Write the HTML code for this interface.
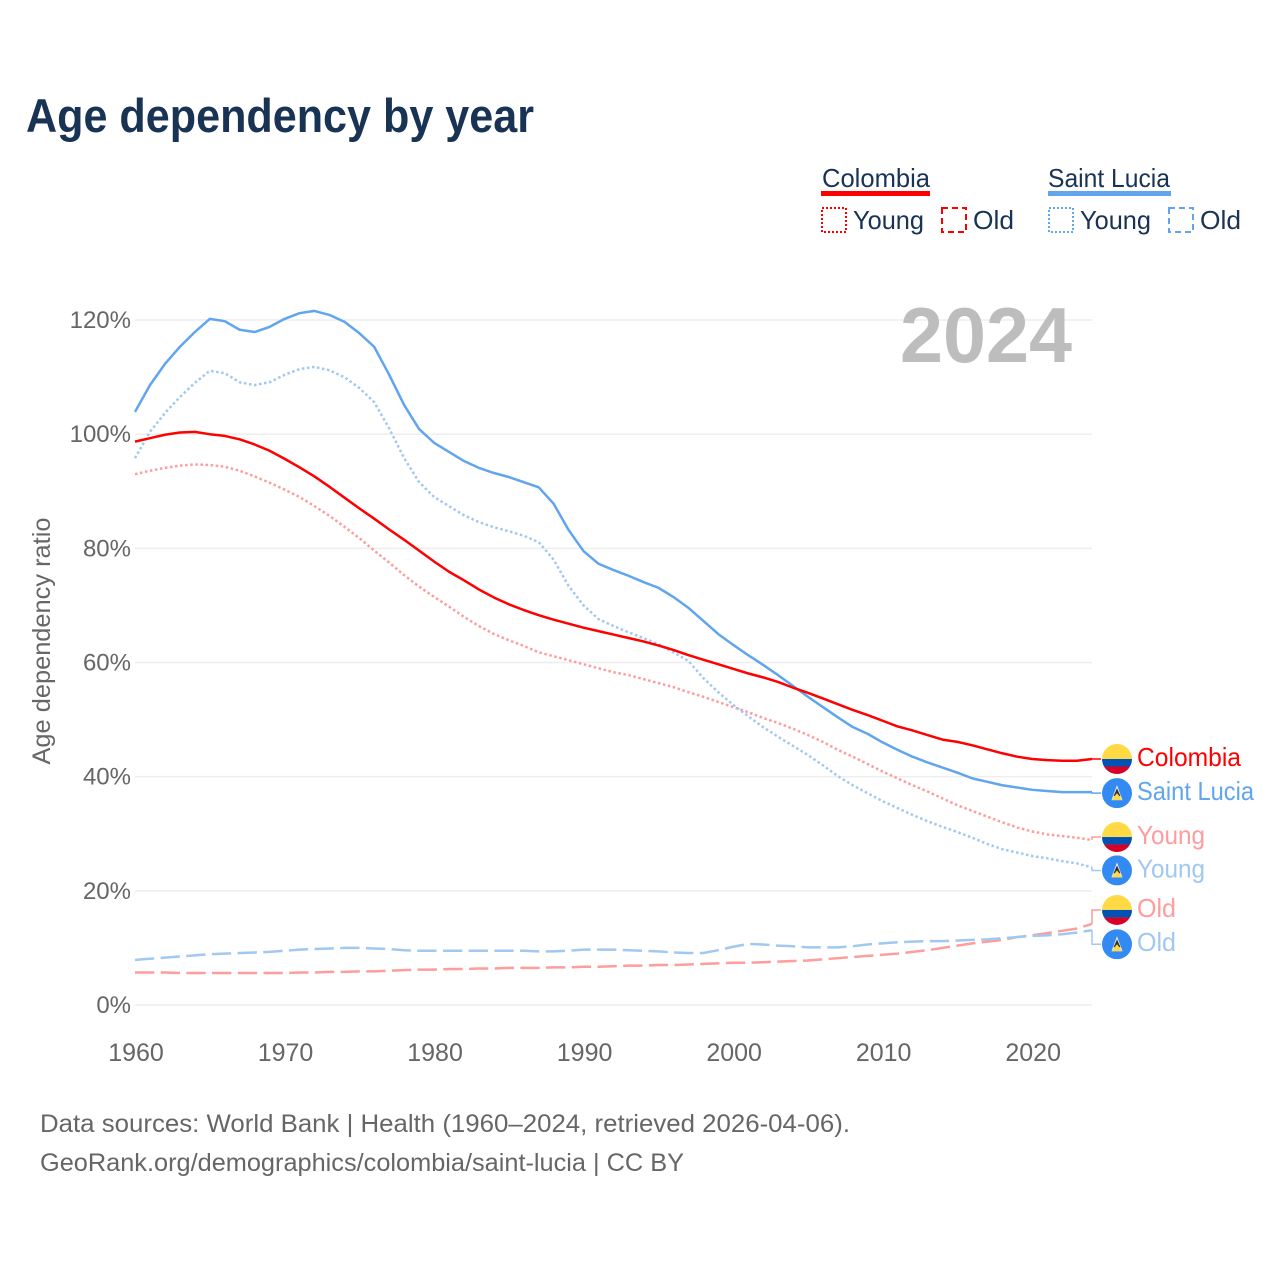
<!DOCTYPE html>
<html lang="en">
<head>
<meta charset="utf-8">
<title>Age dependency by year</title>
<style>
html,body{margin:0;padding:0;background:#fff;}
svg{display:block;font-family:"Liberation Sans",sans-serif;}
</style>
</head>
<body>
<svg id="chart" xmlns="http://www.w3.org/2000/svg" width="1280" height="1280" viewBox="0 0 1280 1280">
  <rect width="1280" height="1280" fill="#fff"/>
  <text x="26" y="132" font-size="47" font-weight="700" fill="#193354" textLength="508" lengthAdjust="spacingAndGlyphs">Age dependency by year</text>

  <g>
    <text x="822" y="187" font-size="26" fill="#193354" textLength="108" lengthAdjust="spacingAndGlyphs">Colombia</text>
    <rect x="821" y="191" width="109" height="5" fill="#ff0000"/>
    <rect x="822" y="208" width="24" height="24" fill="none" stroke="#ff0000" stroke-width="2" stroke-dasharray="2 2"/>
    <text x="853" y="229" font-size="26" fill="#193354" textLength="71" lengthAdjust="spacingAndGlyphs">Young</text>
    <rect x="942" y="208" width="24" height="24" fill="none" stroke="#ff0000" stroke-width="2" stroke-dasharray="6 4"/>
    <text x="973" y="229" font-size="26" fill="#193354" textLength="41" lengthAdjust="spacingAndGlyphs">Old</text>
  </g>
  <g>
    <text x="1048" y="187" font-size="26" fill="#193354" textLength="122" lengthAdjust="spacingAndGlyphs">Saint Lucia</text>
    <rect x="1048" y="191" width="123" height="5" fill="#60a5ee"/>
    <rect x="1049" y="208" width="24" height="24" fill="none" stroke="#60a5ee" stroke-width="2" stroke-dasharray="2 2"/>
    <text x="1080" y="229" font-size="26" fill="#193354" textLength="71" lengthAdjust="spacingAndGlyphs">Young</text>
    <rect x="1169" y="208" width="24" height="24" fill="none" stroke="#60a5ee" stroke-width="2" stroke-dasharray="6 4"/>
    <text x="1200" y="229" font-size="26" fill="#193354" textLength="41" lengthAdjust="spacingAndGlyphs">Old</text>
  </g>

  <g id="grid"></g>
  <g id="yticks"></g>
  <g id="xticks"></g>
  <text transform="translate(50 641) rotate(-90)" text-anchor="middle" font-size="25" fill="#666" textLength="247" lengthAdjust="spacingAndGlyphs">Age dependency ratio</text>
  <text x="1072" y="362" text-anchor="end" font-size="78" font-weight="700" fill="#bdbdbd" textLength="172" lengthAdjust="spacingAndGlyphs">2024</text>

  <g id="series"></g>
  <g id="labels"></g>

  <text x="40" y="1132" font-size="25" fill="#666" textLength="810" lengthAdjust="spacingAndGlyphs">Data sources: World Bank | Health (1960–2024, retrieved 2026-04-06).</text>
  <text x="40" y="1171" font-size="25" fill="#666" textLength="644" lengthAdjust="spacingAndGlyphs">GeoRank.org/demographics/colombia/saint-lucia | CC BY</text>
</svg>
<script>
const startYear = 1960;
const yTickValues = [0, 20, 40, 60, 80, 100, 120];
const xTickValues = [1960, 1970, 1980, 1990, 2000, 2010, 2020];

const colombiaTotal = [98.7,99.3,99.9,100.3,100.4,100,99.7,99.1,98.2,97.1,95.7,94.2,92.6,90.8,88.9,87,85.2,83.3,81.5,79.6,77.7,75.9,74.4,72.8,71.4,70.2,69.2,68.3,67.5,66.8,66.1,65.5,64.9,64.3,63.7,63,62.2,61.3,60.5,59.7,58.9,58.1,57.4,56.6,55.6,54.7,53.7,52.7,51.7,50.8,49.8,48.8,48.1,47.3,46.5,46.1,45.5,44.8,44.1,43.5,43.1,42.9,42.8,42.8,43.1];
const colombiaYoung = [93,93.6,94.1,94.5,94.7,94.6,94.3,93.6,92.6,91.5,90.3,89,87.4,85.7,83.8,81.8,79.6,77.5,75.3,73.3,71.5,69.8,68,66.4,65,63.9,62.9,61.8,61.1,60.4,59.7,59,58.3,57.8,57.1,56.4,55.7,54.8,54,53.1,52.2,51.3,50.3,49.4,48.4,47.3,46.1,44.7,43.5,42.2,40.9,39.7,38.5,37.4,36.2,35,34,33,32,31.1,30.4,29.9,29.6,29.3,28.9];
const colombiaOld = [5.7,5.7,5.7,5.6,5.6,5.6,5.6,5.6,5.6,5.6,5.6,5.7,5.7,5.8,5.8,5.9,5.9,6,6.1,6.2,6.2,6.3,6.3,6.4,6.4,6.5,6.5,6.5,6.6,6.6,6.7,6.7,6.8,6.9,6.9,7,7,7.1,7.2,7.3,7.4,7.4,7.5,7.6,7.7,7.8,8,8.2,8.4,8.6,8.8,9,9.3,9.6,10,10.4,10.8,11.1,11.4,11.9,12.2,12.6,13,13.4,14.2];
const luciaTotal = [103.9,108.6,112.3,115.3,117.9,120.2,119.8,118.3,117.9,118.8,120.2,121.2,121.6,120.9,119.7,117.7,115.3,110.4,105.1,100.9,98.5,96.9,95.3,94.1,93.2,92.5,91.6,90.7,87.8,83.2,79.5,77.3,76.2,75.2,74.1,73.1,71.5,69.6,67.3,65,63.1,61.3,59.6,57.8,55.9,54,52.2,50.4,48.7,47.5,46,44.7,43.5,42.5,41.6,40.7,39.7,39.1,38.5,38.1,37.7,37.5,37.3,37.3,37.3];
const luciaYoung = [95.8,100.4,103.7,106.5,109,111.1,110.7,109.1,108.6,109.1,110.4,111.4,111.8,111.2,110,108.1,105.6,101,95.8,91.6,89,87.4,85.8,84.6,83.7,83,82.2,81.1,78,73.4,70,67.6,66.4,65.3,64.3,63.2,61.8,60.3,57.3,54.8,52.6,50.6,48.7,47,45.4,43.8,42,40.1,38.5,37.1,35.7,34.5,33.3,32.2,31.2,30.3,29.3,28.2,27.3,26.7,26.1,25.7,25.2,24.8,24.1];
const luciaOld = [7.9,8.1,8.3,8.5,8.7,8.9,9,9.1,9.2,9.3,9.5,9.7,9.8,9.9,10,10,9.9,9.8,9.6,9.5,9.5,9.5,9.5,9.5,9.5,9.5,9.5,9.4,9.4,9.5,9.7,9.7,9.7,9.6,9.5,9.4,9.2,9.1,9.1,9.6,10.2,10.7,10.6,10.4,10.3,10.1,10.1,10.1,10.3,10.6,10.8,11,11.1,11.2,11.2,11.3,11.4,11.5,11.7,11.9,12.1,12.2,12.4,12.7,13.1];

const NS = 'http://www.w3.org/2000/svg';
const X0 = 135, X1 = 1092, Y0 = 1005, YPX = 5.708;
function xScale(year){ return X0 + (year - startYear) * (X1 - X0) / 64; }
function yScale(v){ return Y0 - v * YPX; }
function make(tag, parent, attrs){
  const el = document.createElementNS(NS, tag);
  for (const k in attrs) el.setAttribute(k, attrs[k]);
  parent.appendChild(el);
  return el;
}

const gridG = document.getElementById('grid');
const yG = document.getElementById('yticks');
const xG = document.getElementById('xticks');
yTickValues.forEach(function(v){
  const line = make('line', gridG, {x1:X0, x2:X1, y1:yScale(v), y2:yScale(v), stroke:'#eeeeee', 'stroke-width':1.5});
  
  
  const t = make('text', yG, {x:131, y:yScale(v)+8, 'text-anchor':'end', 'font-size':24, fill:'#666'});
  
  
  t.textContent = v + '%';
});
xTickValues.forEach(function(y){
  const t = make('text', xG, {x:xScale(y)+1, y:1061, 'text-anchor':'middle', 'font-size':25, fill:'#666'});
  
  
  t.textContent = y;
});

const seriesDefs = [
  {id:'colombia-old', values:colombiaOld, color:'#ff9c9c', dash:'19.3 6.4', label:'Old', country:'co', nudge:-14},
  {id:'saint-lucia-old', values:luciaOld, color:'#a0c8f1', dash:'19.3 6.4', label:'Old', country:'lc', nudge:14},
  {id:'colombia-young', values:colombiaYoung, color:'#ff9c9c', dash:'2.5 2.6', label:'Young', country:'co', nudge:-3},
  {id:'saint-lucia-young', values:luciaYoung, color:'#a0c8f1', dash:'2.5 2.6', label:'Young', country:'lc', nudge:3},
  {id:'saint-lucia-total', values:luciaTotal, color:'#60a5ee', dash:'', label:'Saint Lucia', country:'lc', nudge:1},
  {id:'colombia-total', values:colombiaTotal, color:'#ff0000', dash:'', label:'Colombia', country:'co', nudge:0}
];
const labelWidths = {'Old':39, 'Young':68, 'Saint Lucia':117, 'Colombia':104};

const seriesG = document.getElementById('series');
const labelsG = document.getElementById('labels');

function drawFlag(group, country, cy){
  const cx = 1117, r = 15;
  const clipId = 'clip-' + cy.toFixed(0);
  const clip = make('clipPath', group, {id:clipId});
  make('circle', clip, {cx:cx, cy:cy, r:r});
  const g = make('g', group, {'clip-path':'url(#' + clipId + ')'});
  
  
  if (country === 'co') {
    make('rect', g, {x:cx-r, y:cy-r, width:2*r, height:r, fill:'#ffda44'});
    make('rect', g, {x:cx-r, y:cy, width:2*r, height:r/2, fill:'#0052b4'});
    make('rect', g, {x:cx-r, y:cy+r/2, width:2*r, height:r/2, fill:'#d80027'});
  } else {
    make('rect', g, {x:cx-r, y:cy-r, width:2*r, height:2*r, fill:'#338af3'});
    make('polygon', g, {points:(cx)+','+(cy-8)+' '+(cx+5.5)+','+(cy+7)+' '+(cx-5.5)+','+(cy+7), fill:'#f3f3f3'});
    make('polygon', g, {points:(cx)+','+(cy-5)+' '+(cx+3.5)+','+(cy+3)+' '+(cx-3.5)+','+(cy+3), fill:'#333'});
    make('polygon', g, {points:(cx)+','+(cy)+' '+(cx+5.5)+','+(cy+7)+' '+(cx-5.5)+','+(cy+7), fill:'#ffda44'});
  }
}

seriesDefs.forEach(function(s){
  const d = s.values.map(function(v, i){
    return (i ? 'L' : 'M') + xScale(startYear + i).toFixed(2) + ' ' + yScale(v).toFixed(2);
  }).join(' ');
  const attrs = {d:d, fill:'none', stroke:s.color, 'stroke-width':2.5, 'stroke-linejoin':'round'};
  if (s.dash) attrs['stroke-dasharray'] = s.dash;
  const path = make('path', seriesG, attrs);
  
  

  const endVal = s.values[s.values.length - 1];
  const endY = yScale(endVal);
  const flagY = endY + s.nudge;
  const conn = make('path', labelsG, {d:'M' + X1 + ' ' + endY.toFixed(2) + ' V' + flagY.toFixed(2) + ' H1101', fill:'none', stroke:s.color, 'stroke-width':1.5});
  
  
  drawFlag(labelsG, s.country, flagY);
  const t = make('text', labelsG, {x:1137, y:flagY + 7, 'font-size':26, fill:s.color, textLength:labelWidths[s.label], lengthAdjust:'spacingAndGlyphs'});
  
  
  t.textContent = s.label;
});
</script>
</body>
</html>
